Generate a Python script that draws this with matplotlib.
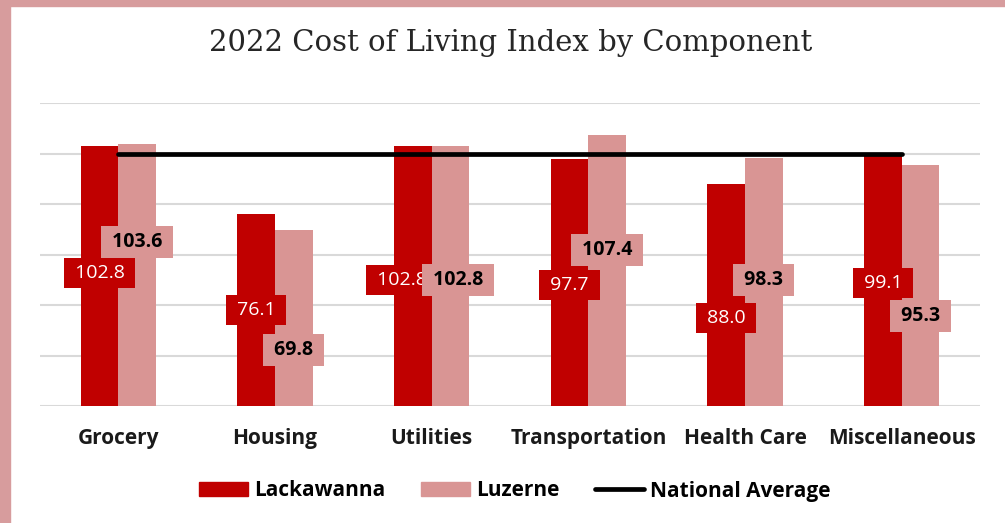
import matplotlib
matplotlib.use('Agg')
import numpy as np
import matplotlib.pyplot as plt
from matplotlib.patches import Rectangle
from matplotlib.lines import Line2D

# --- Data ---
categories = ['Grocery', 'Housing', 'Utilities', 'Transportation', 'Health Care', 'Miscellaneous']
lackawanna = [102.8, 76.1, 102.8, 97.7, 88.0, 99.1]
luzerne = [103.6, 69.8, 102.8, 107.4, 98.3, 95.3]
national_avg = [100, 100, 100, 100, 100, 100]

# where the data labels sit (data units), as placed in the original
lack_label_y = [52.8, 38.1, 50.0, 48.0, 34.9, 48.8]
luz_label_y = [65.0, 22.2, 50.0, 61.9, 50.0, 35.7]
# small sideways nudges so the two Utilities labels don't fully cover each other
lack_label_dx = [0, 0, -0.07, 0, 0, 0]
luz_label_dx = [0, 0, 0.05, 0, 0, 0]

# --- Style ---
DARK = '#C00000'
LIGHT = '#D99594'
FRAME = '#D79C9D'
label_font = 'Open Sans'

fig = plt.figure(figsize=(10.05, 5.23), dpi=100)
fig.patch.set_facecolor('white')
# pink frame on left and top
fig.add_artist(Rectangle((0, 0), 10 / 1005, 1, transform=fig.transFigure, color=FRAME, zorder=0))
fig.add_artist(Rectangle((0, 1 - 6 / 523), 1, 6 / 523, transform=fig.transFigure, color=FRAME, zorder=0))

ax = fig.add_axes([40 / 1005, 117 / 523, 940 / 1005, 303 / 523])

x = np.arange(len(categories))
w = 0.24
ax.bar(x - w / 2, lackawanna, w, color=DARK, zorder=2)
ax.bar(x + w / 2, luzerne, w, color=LIGHT, zorder=2)
ax.plot(x, national_avg, color='black', lw=3.4, solid_capstyle='round', zorder=3)

for i in range(len(categories)):
    ax.text(x[i] - w / 2 + lack_label_dx[i], lack_label_y[i], f' {lackawanna[i]:.1f} ',
            ha='center', va='center', fontsize=14, color='white', family=label_font, zorder=4,
            bbox=dict(boxstyle='square,pad=0.3', fc=DARK, ec='none'))
    ax.text(x[i] + w / 2 + luz_label_dx[i], luz_label_y[i], f' {luzerne[i]:.1f} ',
            ha='center', va='center', fontsize=14, color='black', fontweight='bold',
            family=label_font, zorder=5,
            bbox=dict(boxstyle='square,pad=0.3', fc=LIGHT, ec='none'))

ax.set_xlim(-0.5, len(categories) - 0.5)
ax.set_ylim(0, 120)
ax.set_yticks(np.arange(0, 121, 20))
ax.yaxis.grid(True, color='#D9D9D9', lw=1.5, zorder=0)
ax.set_axisbelow(True)
ax.tick_params(axis='y', left=False, labelleft=False)
ax.tick_params(axis='x', bottom=False, pad=12)
ax.set_xticks(x)
ax.set_xticklabels(categories, fontsize=15, fontweight='bold', family=label_font, color='#1a1a1a')
for s in ax.spines.values():
    s.set_visible(False)

fig.text(0.508, 1 - 43 / 523, '2022 Cost of Living Index by Component', ha='center', va='center',
         fontsize=21, family='DejaVu Serif', color='#262626')

handles = [Rectangle((0, 0), 1, 1, color=DARK), Rectangle((0, 0), 1, 1, color=LIGHT),
           Line2D([0], [0], color='black', lw=3.4, solid_capstyle='round')]
leg = fig.legend(handles, ['Lackawanna', 'Luzerne', 'National Average'], loc='center',
                 bbox_to_anchor=(515 / 1005, 1 - 491 / 523), ncol=3, frameon=False,
                 prop={'family': label_font, 'weight': 'bold', 'size': 15},
                 handlelength=2.35, handleheight=0.67, handletextpad=0.3, columnspacing=1.7)

fig.savefig('out.png', dpi=100)
plt.close()
